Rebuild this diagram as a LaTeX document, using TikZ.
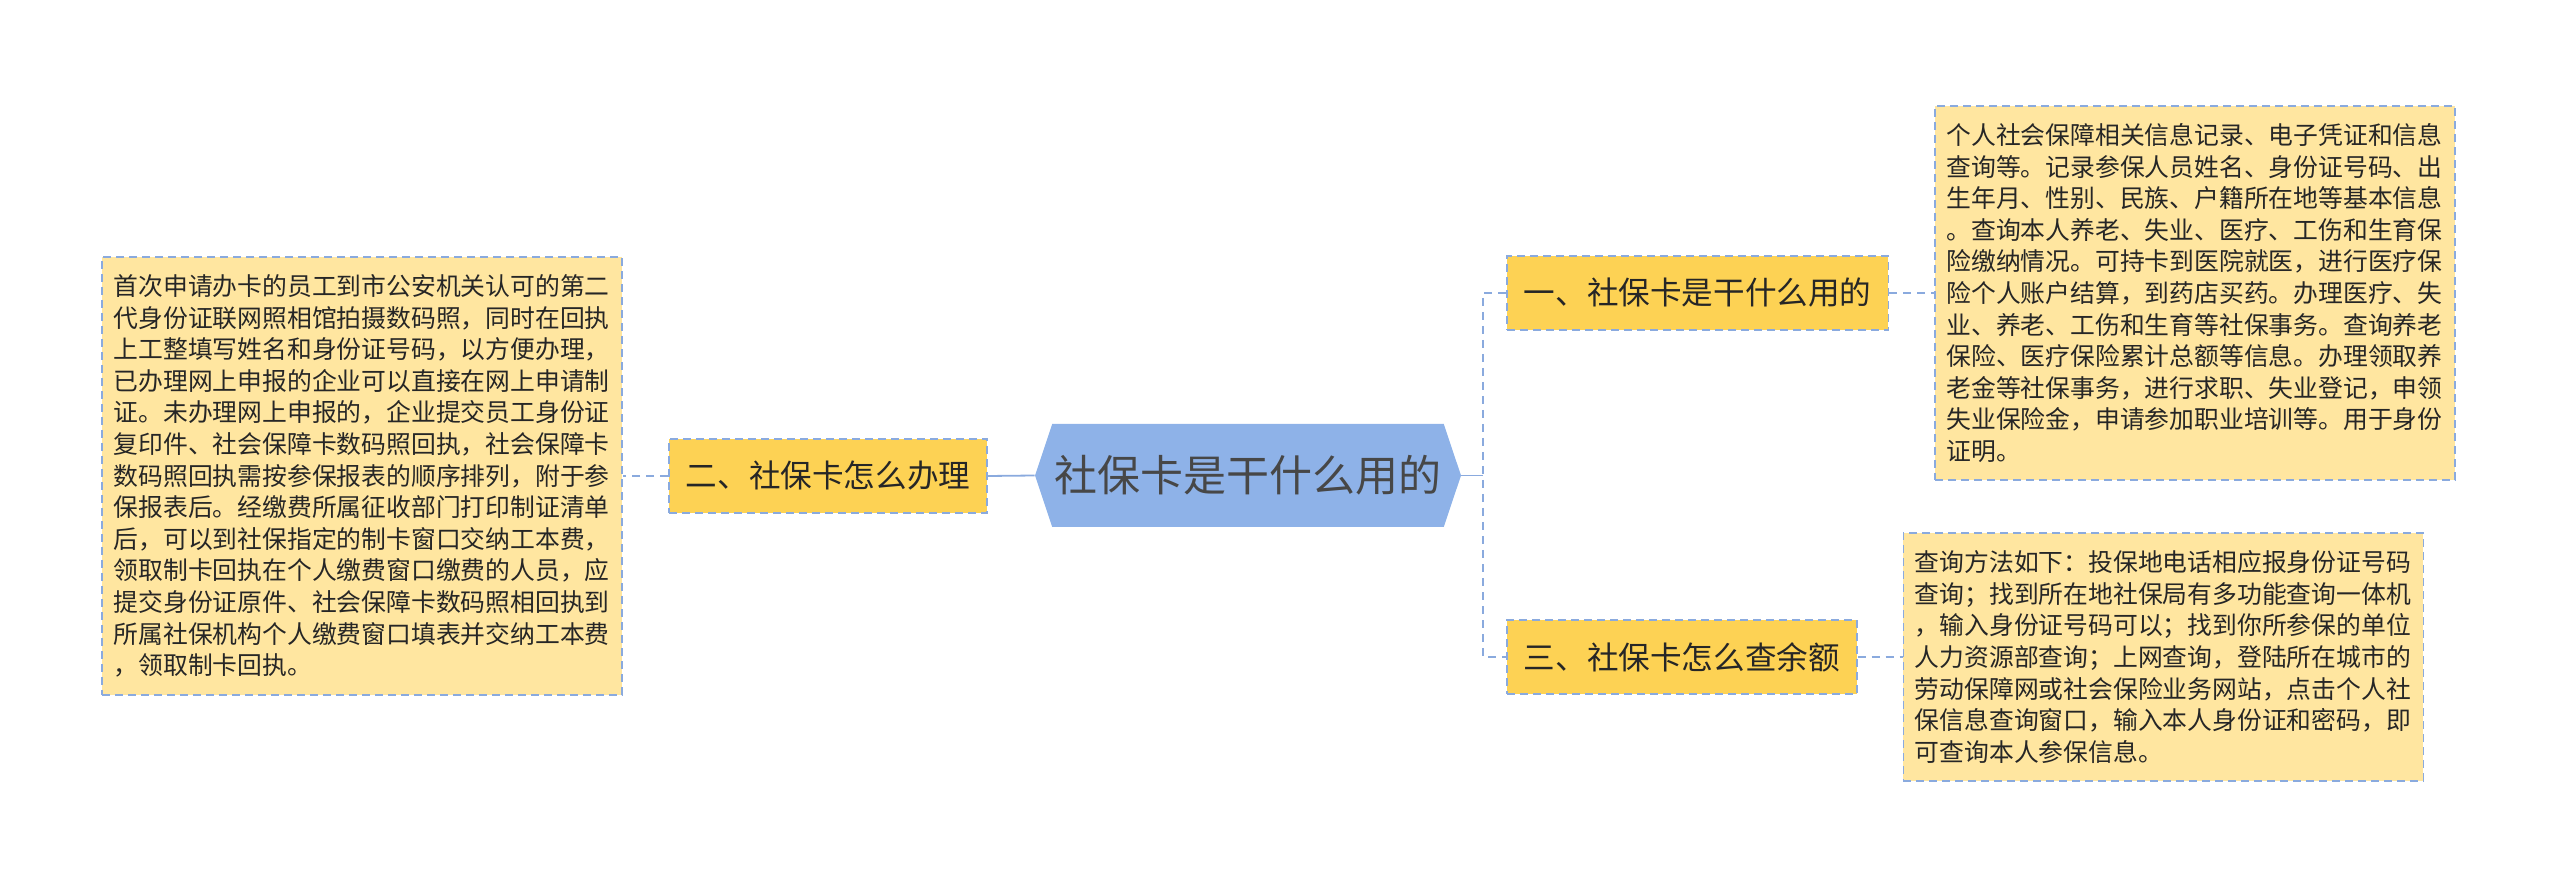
\documentclass[tikz,border=0pt]{standalone}
\usepackage{fontspec}
\setmainfont{Noto Sans CJK SC}
\usetikzlibrary{positioning,shapes.symbols}
\definecolor{rootblue}{RGB}{142,178,232}
\definecolor{topicgold}{RGB}{253,210,84}
\definecolor{notecream}{RGB}{255,230,160}
\definecolor{edgeblue}{RGB}{138,170,222}
\definecolor{inkgray}{RGB}{38,38,38}

\begin{document}
\begin{tikzpicture}[x=1pt, y=-1pt,
    root/.style={signal, signal to=west and east, signal pointer angle=143, fill=rootblue, text=inkgray!85, font=\fontsize{21.5pt}{26pt}\selectfont, minimum width=213pt, minimum height=51.5pt, inner sep=0pt},
    topic/.style={rectangle, draw=edgeblue, dash pattern=on 4pt off 2.5pt, line width=0.8pt, fill=topicgold, text=inkgray, font=\fontsize{15.8pt}{19pt}\selectfont, minimum height=37pt, inner xsep=8.5pt},
    note/.style={rectangle, draw=edgeblue, dash pattern=on 4pt off 2.5pt, line width=0.8pt, fill=notecream, text=inkgray, font=\fontsize{12.4pt}{15.8pt}\selectfont, text width=248.5pt, align=left, inner xsep=5.75pt, inner ysep=4pt},
    link/.style={draw=edgeblue, line width=0.9pt, dash pattern=on 4pt off 3pt}]

    \useasboundingbox (0,0) rectangle (1280,443.5);

    \node[root] (card) at (624,237.75) {社保卡是干什么用的};
    \node[topic, anchor=east] (apply) at (494,238) {二、社保卡怎么办理};
    \node[topic, anchor=west] (use) at (753,146.5) {一、社保卡是干什么用的};
    \node[topic, anchor=west] (balance) at (753,328.5) {三、社保卡怎么查余额};
    \node[note, minimum height=219pt, left=22.5pt of apply] (applynote) {首次申请办卡的员工到市公安机关认可的第二\\代身份证联网照相馆拍摄数码照，同时在回执\\上工整填写姓名和身份证号码，以方便办理，\\已办理网上申报的企业可以直接在网上申请制\\证。未办理网上申报的，企业提交员工身份证\\复印件、社会保障卡数码照回执，社会保障卡\\数码照回执需按参保报表的顺序排列，附于参\\保报表后。经缴费所属征收部门打印制证清单\\后，可以到社保指定的制卡窗口交纳工本费，\\领取制卡回执在个人缴费窗口缴费的人员，应\\提交身份证原件、社会保障卡数码照相回执到\\所属社保机构个人缴费窗口填表并交纳工本费\\，领取制卡回执。};
    \node[note, minimum height=187pt, right=22.5pt of use] (usenote) {个人社会保障相关信息记录、电子凭证和信息\\查询等。记录参保人员姓名、身份证号码、出\\生年月、性别、民族、户籍所在地等基本信息\\。查询本人养老、失业、医疗、工伤和生育保\\险缴纳情况。可持卡到医院就医，进行医疗保\\险个人账户结算，到药店买药。办理医疗、失\\业、养老、工伤和生育等社保事务。查询养老\\保险、医疗保险累计总额等信息。办理领取养\\老金等社保事务，进行求职、失业登记，申领\\失业保险金，申请参加职业培训等。用于身份\\证明。};
    \node[note, minimum height=124pt, right=22.5pt of balance] (balancenote) {查询方法如下：投保地电话相应报身份证号码\\查询；找到所在地社保局有多功能查询一体机\\，输入身份证号码可以；找到你所参保的单位\\人力资源部查询；上网查询，登陆所在城市的\\劳动保障网或社会保险业务网站，点击个人社\\保信息查询窗口，输入本人身份证和密码，即\\可查询本人参保信息。};
    \coordinate (fork) at (741.5,237.75);

    \draw[edgeblue, line width=0.9pt] (card.east) -- (fork);
    \draw[link] (use.west) -| (fork) |- (balance.west);
    \draw[edgeblue, line width=0.9pt] (card.west) -- (apply.east);
    \draw[link] (apply.west) -- (applynote.east);
    \draw[link] (use.east) -- (usenote.west);
    \draw[link] (balance.east) -- (balancenote.west);
\end{tikzpicture}
\end{document}
